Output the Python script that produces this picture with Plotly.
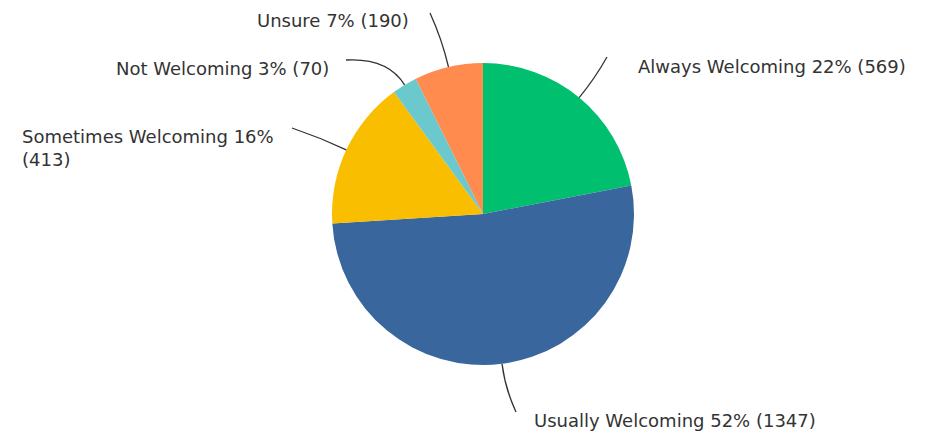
import math
import plotly.graph_objects as go

# survey answers, clockwise from 12 o'clock
labels = ["Always Welcoming", "Usually Welcoming", "Sometimes Welcoming",
          "Not Welcoming", "Unsure"]
counts = [569, 1347, 413, 70, 190]
percents = [22, 52, 16, 3, 7]
colors = ["#00bf6f", "#3a669e", "#f9be00", "#6bc8cd", "#ff8b4f"]

W, H = 925, 433
OFF = 8                      # page body margin pushes the div by 8px
CX, CY, R = 483, 214, 151    # pie centre / radius in screen px

# label anchor (screen px) and which side the text hangs from
label_pos = [(636, 67, "left"), (532, 420, "left"), (276, 148, "right"),
             (331, 68, "right"), (411, 20, "right")]
line_end = [(607, 57), (516, 412), (292, 128), (346, 60), (430, 13)]


def px(x, y):
    return (x - OFF) / W, 1 - (y - OFF) / H


x0, y1 = px(CX - R, CY - R)
x1, y0 = px(CX + R, CY + R)
fig = go.Figure(go.Pie(
    labels=labels, values=counts, sort=False, direction="clockwise",
    rotation=0, textinfo="none", hoverinfo="label+value+percent",
    marker=dict(colors=colors, line=dict(width=0)),
    domain=dict(x=[x0, x1], y=[y0, y1]),
    showlegend=False,
))

total = sum(counts)
cum = 0
for i, (lab, n, p) in enumerate(zip(labels, counts, percents)):
    mid = (cum + n / 2) / total * 2 * math.pi
    cum += n
    dx, dy = math.sin(mid), -math.cos(mid)
    sx, sy = CX + R * dx, CY + R * dy
    ex, ey = line_end[i]
    k = 0.5 * math.hypot(ex - sx, ey - sy)
    qx, qy = sx + dx * k, sy + dy * k
    a, b = px(sx, sy); c, d = px(qx, qy); e, f = px(ex, ey)
    fig.add_shape(type="path", xref="paper", yref="paper",
                  path=f"M {a} {b} Q {c} {d} {e} {f}",
                  line=dict(color="#333333", width=1.3))

    text = f"{lab} {p}% ({n})"
    if lab == "Sometimes Welcoming":
        text = f"{lab} {p}%<br>({n})"
    lx, ly, side = label_pos[i]
    x, y = px(lx, ly)
    fig.add_annotation(x=x, y=y, xref="paper", yref="paper", text=text,
                       showarrow=False, xanchor=side, yanchor="middle",
                       align="left", font=dict(size=18, color="#333333",
                                               family="DejaVu Sans"))

fig.update_layout(width=W, height=H, margin=dict(l=0, r=0, t=0, b=0),
                  paper_bgcolor="white", plot_bgcolor="white")
fig.write_html("out.html")
